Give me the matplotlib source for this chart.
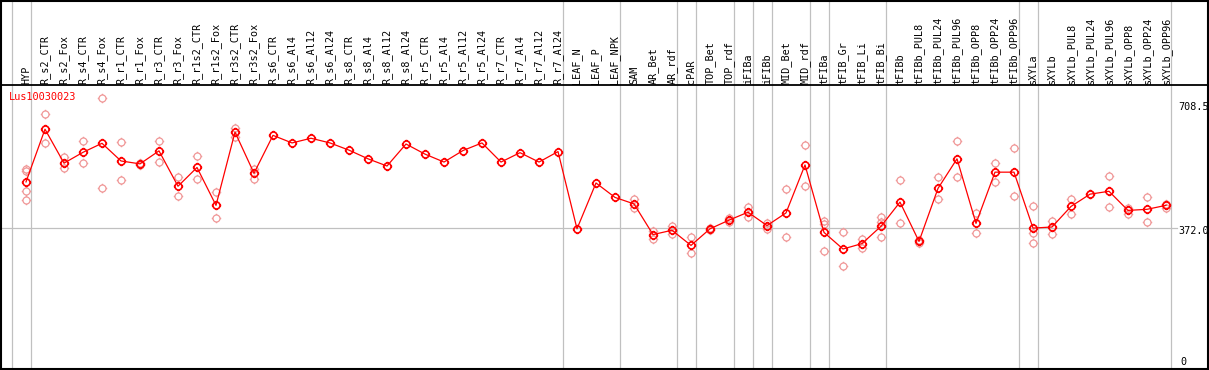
import matplotlib
matplotlib.use("Agg")
import matplotlib.pyplot as plt
from matplotlib.path import Path

labels = [
    "HYP", "R_s2_CTR", "R_s2_Fox", "R_s4_CTR", "R_s4_Fox", "R_r1_CTR", "R_r1_Fox",
    "R_r3_CTR", "R_r3_Fox", "R_r1s2_CTR", "R_r1s2_Fox", "R_r3s2_CTR", "R_r3s2_Fox",
    "R_s6_CTR", "R_s6_Al4", "R_s6_Al12", "R_s6_Al24", "R_s8_CTR", "R_s8_Al4",
    "R_s8_Al12", "R_s8_Al24", "R_r5_CTR", "R_r5_Al4", "R_r5_Al12", "R_r5_Al24",
    "R_r7_CTR", "R_r7_Al4", "R_r7_Al12", "R_r7_Al24", "LEAF_N", "LEAF_P", "LEAF_NPK",
    "SAM", "AR_Bet", "AR_rdf", "cPAR", "TOP_Bet", "TOP_rdf", "iFIBa", "iFIBb",
    "MID_Bet", "MID_rdf", "tFIBa", "tFIB_Gr", "tFIB_Li", "tFIB_Bi", "tFIBb",
    "tFIBb_PUL8", "tFIBb_PUL24", "tFIBb_PUL96", "tFIBb_OPP8", "tFIBb_OPP24",
    "tFIBb_OPP96", "sXYLa", "sXYLb", "sXYLb_PUL8", "sXYLb_PUL24", "sXYLb_PUL96",
    "sXYLb_OPP8", "sXYLb_OPP24", "sXYLb_OPP96",
]

means = [
    500, 646, 552, 582, 607, 558, 550, 586, 488, 540, 435, 638, 524,
    629, 608, 621, 608, 588, 564, 544, 605, 577, 555, 587, 608, 555, 581, 555, 584,
    370, 497, 457, 439, 354, 366, 324, 370, 394, 416, 379, 414, 547,
    360, 314, 329, 377, 444, 335, 482, 564, 385, 527, 527,
    372, 375, 432, 466, 474, 421, 424, 435,
]

replicates = [
    [535, 531, 474, 449], [687, 607], [568, 539], [613, 552], [732, 482],
    [610, 505], [553, 546], [613, 555], [513, 460], [571, 507], [472, 400],
    [650, 625], [536, 508],
    [], [], [], [], [], [], [], [], [], [], [], [], [], [], [], [],
    [], [], [],
    [452, 428], [364, 342], [378, 356], [346, 302], [372, 367], [399, 388],
    [431, 404], [387, 370], [480, 347], [602, 489], [392, 383, 308],
    [361, 266], [343, 318], [402, 390, 346], [505, 385], [340, 330],
    [513, 452], [612, 513], [415, 359], [551, 500], [593, 461],
    [433, 358, 330], [392, 356], [453, 412], [466], [515, 430],
    [427, 411], [458, 388], [439, 429],
]

# group separators sit just right of these columns
separators = [-1, 0, 28, 31, 34, 35, 37, 38, 39, 41, 42, 45, 52, 53, 60]
ref_ticks = [708.5, 372.0, 0]
gene = "Lus10030023"

# circle marker with four small ticks
circ = Path.unit_circle()
ticks = Path(
    [(0, 1), (0, 1.35), (0, -1), (0, -1.35), (1, 0), (1.35, 0), (-1, 0), (-1.35, 0)],
    [Path.MOVETO, Path.LINETO] * 4,
)
sun = Path.make_compound_path(circ, ticks)

W, H = 1209, 370
fig = plt.figure(figsize=(W / 100, H / 100), dpi=100)
ax = fig.add_axes([0, 0, 1, 1])

# pixel -> data mapping
px_x0, px_step = 26, 19
y_zero, y_scale = 362.3, 0.3608
ax.set_xlim(-px_x0 / px_step, (W - px_x0) / px_step)
ax.set_ylim((y_zero - H) / y_scale, y_zero / y_scale)
ax.set_xticks([])
ax.set_yticks([])
for s in ax.spines.values():
    s.set_visible(False)

def ypx(p):
    return (y_zero - p) / y_scale

xs = list(range(len(labels)))
grey = "#c0c0c0"

for sep in separators:
    ax.axvline(sep + 0.25, color=grey, lw=0.9, zorder=1)
ax.plot([ax.get_xlim()[0], 60.6], [372.0, 372.0], color=grey, lw=0.9, zorder=1)

# frame
ax.axhline(ypx(85), color="black", lw=1.3, zorder=5)
ax.axhline(ypx(0.5), color="black", lw=1.5, zorder=5)
ax.axhline(ypx(368.5), color="black", lw=1.5, zorder=5)
ax.axvline(-px_x0 / px_step + 1.5 / px_step, color="black", lw=1.5, zorder=5)
ax.axvline((W - px_x0 - 1.5) / px_step, color="black", lw=1.5, zorder=5)

for x, lab in zip(xs, labels):
    ax.text(x, ypx(83.5), lab, rotation=90, ha="center", va="bottom",
            family="DejaVu Sans Mono", fontsize=7.3, color="black")

for x, reps in zip(xs, replicates):
    ax.plot([x] * len(reps), reps, ls="none", marker=sun, ms=6.8,
            mfc="none", mec="#f09898", mew=0.9, zorder=2)

ax.plot(xs, means, color="red", lw=0.9, zorder=3)
ax.plot(xs, means, ls="none", marker=sun, ms=6.8, mfc="none",
        mec="red", mew=1.2, zorder=4)

ax.text(-px_x0 / px_step + 9 / px_step, ypx(97), gene, color="red",
        family="DejaVu Sans Mono", fontsize=7.4, ha="left", va="center")

for t in ref_ticks:
    lab = "0" if t == 0 else f"{t:.1f}"
    off = 3 if t == 372.0 else 0
    ax.text((1178 - px_x0) / px_step if t else (1180 - px_x0) / px_step,
            t - off / y_scale, lab, family="DejaVu Sans Mono", fontsize=7.3,
            ha="left", va="center", color="black")

fig.savefig("out.png", dpi=100)
